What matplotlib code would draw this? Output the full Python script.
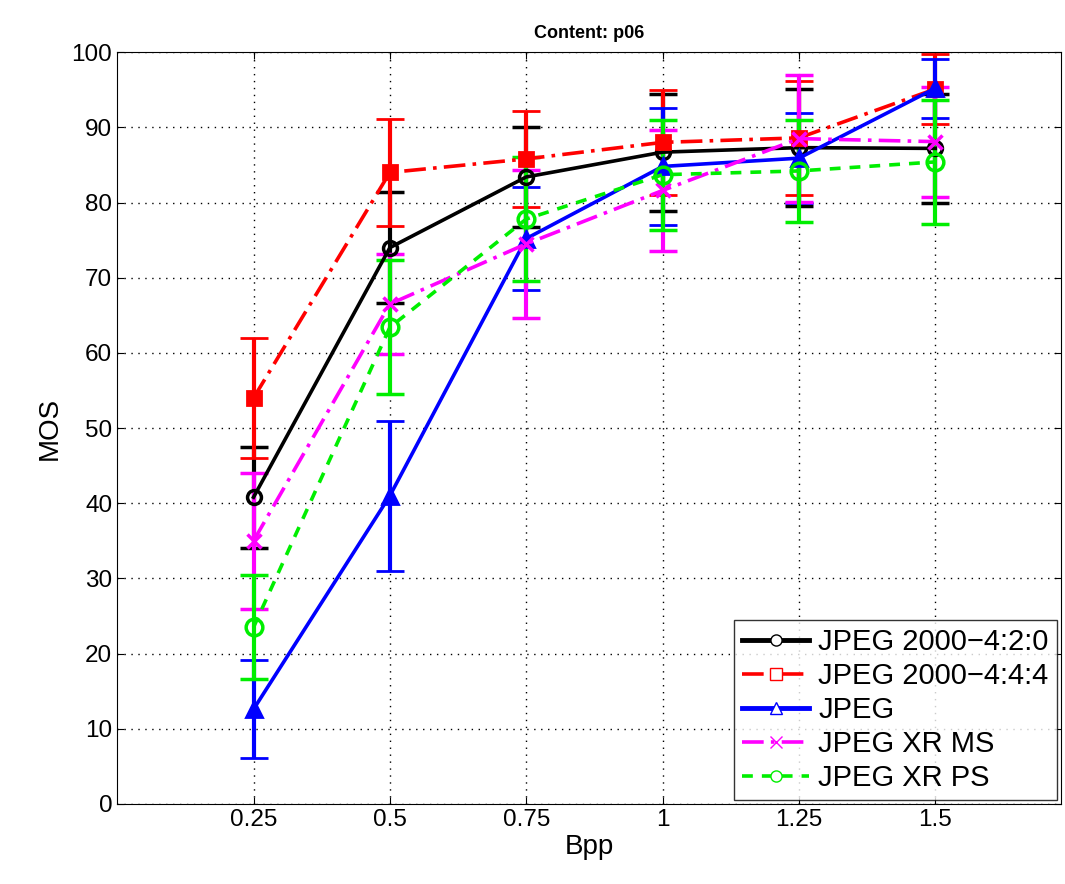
import matplotlib.pyplot as plt
from matplotlib.lines import Line2D

plt.rcParams['font.family'] = ['Liberation Sans', 'DejaVu Sans']

# Bit rates
bpp = [0.25, 0.5, 0.75, 1.0, 1.25, 1.5]

# Mean opinion scores and confidence intervals per codec
mos_j2k420 = [40.8, 74.0, 83.4, 86.7, 87.3, 87.2]
ci_j2k420 = [6.7, 7.4, 6.7, 7.8, 7.8, 7.3]

mos_j2k444 = [54.0, 84.0, 85.8, 88.0, 88.6, 95.1]
ci_j2k444 = [8.0, 7.1, 6.4, 7.0, 7.6, 4.7]

mos_jpeg = [12.6, 41.0, 75.2, 84.8, 85.9, 95.2]
ci_jpeg = [6.5, 10.0, 6.9, 7.8, 6.0, 3.9]

mos_xr_ms = [35.0, 66.5, 74.5, 81.6, 88.5, 88.1]
ci_xr_ms = [9.0, 6.7, 9.8, 8.1, 8.4, 7.3]

mos_xr_ps = [23.5, 63.4, 77.8, 83.7, 84.2, 85.4]
ci_xr_ps = [6.9, 8.9, 8.2, 7.3, 6.8, 8.2]

labels = ['JPEG 2000\u22124:2:0', 'JPEG 2000\u22124:4:4', 'JPEG', 'JPEG XR MS', 'JPEG XR PS']
green = '#00ee00'
dashdot = (0, (6, 2, 1, 2))
dashed = (0, (3, 2.5))

fig = plt.figure(figsize=(10.65, 8.84), dpi=100)
ax = fig.add_axes([0.110, 0.0905, 0.886, 0.8505])

common = dict(capsize=10, capthick=3, elinewidth=3, lw=2.6)
ax.errorbar(bpp, mos_j2k420, yerr=ci_j2k420, color='black', ls='-', marker='o',
            ms=10, mfc='none', mew=2.5, **common)
ax.errorbar(bpp, mos_j2k444, yerr=ci_j2k444, color='red', ls=dashdot, marker='s',
            ms=10, mfc='red', mew=2, **common)
ax.errorbar(bpp, mos_jpeg, yerr=ci_jpeg, color='blue', ls='-', marker='^',
            ms=12, mfc='blue', mew=2, **common)
ax.errorbar(bpp, mos_xr_ms, yerr=ci_xr_ms, color='magenta', ls=dashdot, marker='x',
            ms=10, mew=2.5, **common)
ax.errorbar(bpp, mos_xr_ps, yerr=ci_xr_ps, color=green, ls=dashed, marker='o',
            ms=12, mfc='none', mew=2.5, **common)

ax.set_xlim(0, 1.73)
ax.set_ylim(0, 100)
ax.set_xticks(bpp)
ax.set_xticklabels(['0.25', '0.5', '0.75', '1', '1.25', '1.5'])
ax.set_yticks(range(0, 101, 10))
ax.tick_params(labelsize=17.5, direction='in', length=5, top=True, right=True)
ax.grid(True, color='black', ls=(0, (1, 4)), lw=1)
ax.set_xlabel('Bpp', fontsize=20, labelpad=2)
ax.set_ylabel('MOS', fontsize=20, labelpad=6)
ax.set_title('Content: p06', fontsize=13, fontweight='bold', pad=10)

# Legend shows line style with a small open marker, no error bars
handles = [
    Line2D([], [], color='black', ls='-', lw=3.5, marker='o', ms=8, mfc='white', mew=1),
    Line2D([], [], color='red', ls=dashdot, lw=2.6, marker='s', ms=8, mfc='white', mew=1),
    Line2D([], [], color='blue', ls='-', lw=3.5, marker='^', ms=8, mfc='white', mew=1),
    Line2D([], [], color='magenta', ls=dashdot, lw=2.6, marker='x', ms=8, mew=1),
    Line2D([], [], color=green, ls=dashed, lw=2.6, marker='o', ms=8, mfc='white', mew=1),
]
leg = ax.legend(handles, labels, loc='lower right', fontsize=21, frameon=True, fancybox=False,
                edgecolor='black', borderaxespad=0.12, handlelength=2.3,
                handletextpad=0.3, labelspacing=0.2, borderpad=0.3)
leg.get_frame().set_linewidth(1)

plt.savefig('out.png', dpi=100)
